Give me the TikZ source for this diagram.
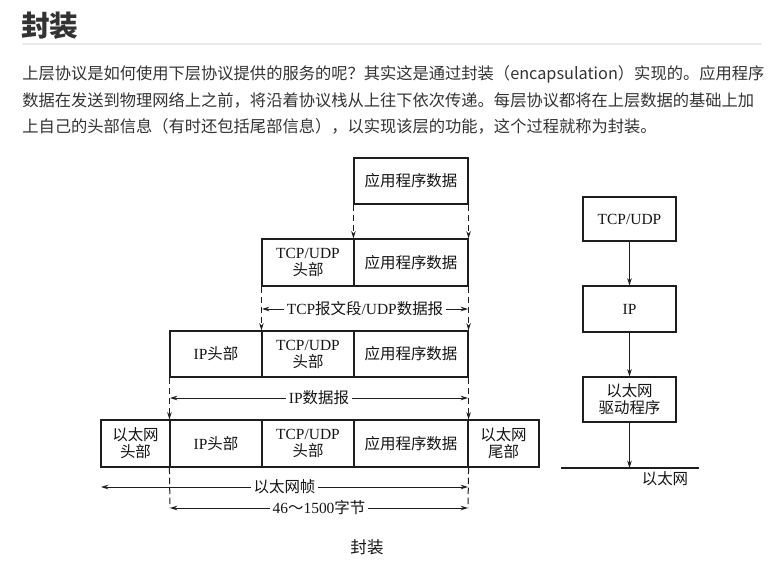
\documentclass[tikz,border=0pt]{standalone}
\usepackage{fontspec}
\setmainfont{Liberation Serif}
\newfontfamily\cjk{Noto Sans CJK SC}
\usetikzlibrary{arrows.meta}
\definecolor{linec}{HTML}{1E1E1E}
\definecolor{txt}{HTML}{151515}
\definecolor{para}{HTML}{333333}
\definecolor{rulec}{HTML}{EBEBEB}
\newcommand\figfont{\fontsize{11.6pt}{12.75pt}\selectfont}
\newcommand\mycell[6]{\node[cell, minimum width={(#3-#2)*0.75pt}, minimum height={(#5-#4)*0.75pt}] (#1) at ({(#2+#3)/2},{(#4+#5)/2}) {#6};}
\tikzset{
  cell/.style={draw=linec, line width=0.85pt, inner sep=0pt, align=center, font=\figfont, text=txt},
  dasharrow/.style={draw=linec, line width=0.75pt, dash pattern=on 5pt off 2.5pt, -{Stealth[length=5.5pt,width=3.4pt]}},
  dashline/.style={draw=linec, line width=0.75pt, dash pattern=on 5pt off 2.5pt},
  dim/.style={draw=linec, line width=0.75pt, {Stealth[length=5.5pt,width=3.4pt]}-{Stealth[length=5.5pt,width=3.4pt]}},
  solidarrow/.style={draw=linec, line width=0.75pt, -{Stealth[length=5.5pt,width=3.4pt]}},
  dimlabel/.style={fill=white, inner xsep=2pt, inner ysep=1pt, font=\figfont, text=txt},
  paraline/.style={anchor=west, inner sep=0pt, font=\cjk\fontsize{12.2pt}{14pt}\selectfont, text=para},
}
\begin{document}
\begin{tikzpicture}[x=0.75pt, y=-0.75pt]
\useasboundingbox[fill=white] (0,0) rectangle (772,579);

% heading and paragraph
\node[anchor=west, inner sep=0pt, font=\cjk\bfseries\fontsize{21.5pt}{24pt}\selectfont, text=para] (title) at (21,26) {封装};
\draw[rulec, line width=1.5pt] (22,44) -- (762,44);
\node[paraline] (p1) at (22,74) {上层协议是如何使用下层协议提供的服务的呢？其实这是通过封装（encapsulation）实现的。应用程序};
\node[paraline] (p2) at (22,100) {数据在发送到物理网络上之前，将沿着协议栈从上往下依次传递。每层协议都将在上层数据的基础上加};
\node[paraline] (p3) at (22,126) {上自己的头部信息（有时还包括尾部信息），以实现该层的功能，这个过程就称为封装。};

% row 1
\mycell{r1app}{354}{468}{158}{204}{\cjk 应用程序数据}
% row 2
\mycell{r2tcp}{262}{354}{239}{286}{TCP/UDP\\{\cjk 头部}}
\mycell{r2app}{354}{468}{239}{286}{\cjk 应用程序数据}
% row 3
\mycell{r3ip}{170}{262}{331}{377}{IP{\cjk 头部}}
\mycell{r3tcp}{262}{354}{331}{377}{TCP/UDP\\{\cjk 头部}}
\mycell{r3app}{354}{468}{331}{377}{\cjk 应用程序数据}
% row 4
\mycell{r4eh}{101}{170}{420}{467}{{\cjk 以太网}\\{\cjk 头部}}
\mycell{r4ip}{170}{262}{420}{467}{IP{\cjk 头部}}
\mycell{r4tcp}{262}{354}{420}{467}{TCP/UDP\\{\cjk 头部}}
\mycell{r4app}{354}{468}{420}{467}{\cjk 应用程序数据}
\mycell{r4et}{468}{539}{420}{467}{{\cjk 以太网}\\{\cjk 尾部}}

% dashed connectors
\draw[dasharrow] (r1app.south west) -- (r2app.north west);
\draw[dasharrow] (r1app.south east) -- (r2app.north east);
\draw[dasharrow] (r2tcp.south west) -- (r3tcp.north west);
\draw[dasharrow] (r2app.south east) -- (r3app.north east);
\draw[dasharrow] (r3ip.south west) -- (r4ip.north west);
\draw[dasharrow] (r3app.south east) -- (r4app.north east);

% dimension lines
\coordinate (d1l) at (262,309);
\coordinate (d1r) at (468,309);
\draw[dim] (d1l) -- node[dimlabel] (d1t) {TCP{\cjk 报文段}/UDP{\cjk 数据报}} (d1r);
\coordinate (d2l) at (170,398);
\coordinate (d2r) at (468,398);
\draw[dim] (d2l) -- node[dimlabel] (d2t) {IP{\cjk 数据报}} (d2r);
\coordinate (d3l) at (101,487);
\coordinate (d3r) at (468,487);
\draw[dim] (d3l) -- node[dimlabel] (d3t) {\cjk 以太网帧} (d3r);
\coordinate (d4l) at (170,508);
\coordinate (d4r) at (468,508);
\draw[dashline] (r4ip.south west) -- (d4l);
\draw[dashline] (r4app.south east) -- (d4r);
\draw[dim] (d4l) -- node[dimlabel] (d4t) {46{\cjk ～}1500{\cjk 字节}} (d4r);

\node[font=\cjk\fontsize{12.4pt}{14pt}\selectfont, text=txt, inner sep=0pt] (cap) at (367,547) {封装};

% right stack
\mycell{sTcp}{583}{676}{197}{241}{TCP/UDP}
\mycell{sIp}{583}{676}{286}{332}{IP}
\mycell{sEth}{583}{676}{377}{422}{{\cjk 以太网}\\{\cjk 驱动程序}}
\coordinate (wl) at (561,468);
\coordinate (wr) at (699,468);
\coordinate (wm) at (629.5,468);
\draw[linec, line width=0.85pt] (wl) -- (wr);
\draw[solidarrow] (sTcp) -- (sIp);
\draw[solidarrow] (sIp) -- (sEth);
\draw[solidarrow] (sEth) -- (wm);
\node[font=\cjk\figfont, text=txt, inner sep=0pt] (wlab) at (665,479) {以太网};
\end{tikzpicture}
\end{document}
